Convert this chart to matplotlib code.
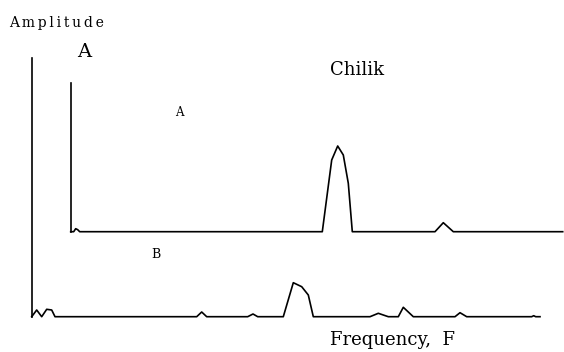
import matplotlib
matplotlib.use("Agg")
import matplotlib.pyplot as plt

# spectrum A (Chilik), frequency relative to its own axis origin
freq_a = [0, 3, 5, 7, 9, 251.6, 261, 267, 272.6, 277.6, 281.6, 364.3, 372.6, 382.6, 492]
amp_a = [0, 0, 3, 2, 0, 0, 71.7, 85.7, 76.7, 48.4, 0, 0, 9, 0, 0]

# spectrum B
freq_b = [0, 5, 10, 15, 20, 23.3, 165, 170, 175, 216, 221.3, 226, 251.6, 261.6, 270,
          276.6, 281.6, 338.3, 346.6, 356.6, 366.6, 371.6, 381.6, 423.3, 428.3, 435,
          500, 502, 504, 508.3]
amp_b = [0, 6.7, 0, 7.4, 6.7, 0, 0, 4.7, 0, 0, 2.7, 0, 0, 34, 30,
         21.7, 0, 0, 3.4, 0, 0, 9.4, 0, 0, 4, 0,
         0, 1, 0, 0]

plt.rcParams['font.family'] = ['DejaVu Serif']

fig = plt.figure(figsize=(5.64, 3.52), dpi=100)
ax = fig.add_axes([0, 0, 1, 1])
ax.set_xlim(-31.7, 532.3)
ax.set_ylim(-35.3, 316.7)
ax.axis('off')

lw = 1.2
# lower (B) axes
ax.plot([0, 0], [0, 258.7], color='black', lw=lw)
ax.plot(freq_b, amp_b, color='black', lw=lw)

# upper (A) axes, shifted
dx, dy = 39, 85
ax.plot([dx, dx], [dy, dy + 148.7], color='black', lw=lw)
ax.plot([f + dx for f in freq_a], [a + dy for a in amp_a], color='black', lw=lw)

def txt(x, y, s, size, **kw):
    fig.text(x / 564, 1 - y / 352, s, fontsize=size, va='center', **kw)

txt(9, 23, '\u2009'.join('Amplitude'), 10)
txt(77, 52, 'A', 14)
txt(330, 70, 'Chilik', 13)
txt(175, 113, 'A', 8.5)
txt(151, 255, 'B', 9)
txt(330, 340, 'Frequency,  F', 13)

fig.savefig('out.png', dpi=100)
